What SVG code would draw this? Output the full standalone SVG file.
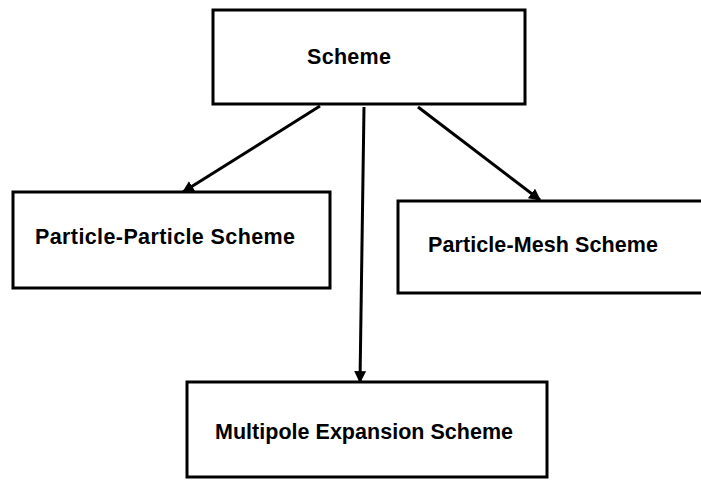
<svg xmlns="http://www.w3.org/2000/svg" width="701" height="480" viewBox="0 0 701 480">
<defs>
<style>
.box{fill:#fff;stroke:#000;stroke-width:3}
.lbl{font-family:"Liberation Sans",Arial,sans-serif;font-weight:bold;font-size:21.5px;fill:#000}
.con{stroke:#000;stroke-width:3;fill:none}
</style>
<marker id="ah" viewBox="0 0 10 10" refX="9" refY="5" markerWidth="4" markerHeight="4" orient="auto" markerUnits="strokeWidth">
<path d="M0,0 L10,5 L0,10 z" fill="#000"/>
</marker>
</defs>
<rect width="701" height="480" fill="#fff"/>
<g id="connectors">
<line class="con" x1="320" y1="106" x2="183" y2="192" marker-end="url(#ah)"/>
<line class="con" x1="418" y1="107" x2="540" y2="200" marker-end="url(#ah)"/>
<line class="con" x1="364" y1="107" x2="360" y2="382" stroke-width="2.5" marker-end="url(#ah)"/>
</g>
<g id="scheme">
<rect class="box" x="213" y="10" width="312" height="94"/>
<text class="lbl" x="307" y="64" textLength="84" lengthAdjust="spacing">Scheme</text>
</g>
<g id="pp">
<rect class="box" x="13" y="192" width="317" height="96"/>
<text class="lbl" x="35" y="244" textLength="260" lengthAdjust="spacing">Particle-Particle Scheme</text>
</g>
<g id="pm">
<rect class="box" x="398" y="201" width="305" height="92"/>
<text class="lbl" x="428" y="252" textLength="230" lengthAdjust="spacing">Particle-Mesh Scheme</text>
</g>
<g id="mp">
<rect class="box" x="187" y="382" width="360" height="95"/>
<text class="lbl" x="215" y="439" textLength="298" lengthAdjust="spacing">Multipole Expansion Scheme</text>
</g>
</svg>
